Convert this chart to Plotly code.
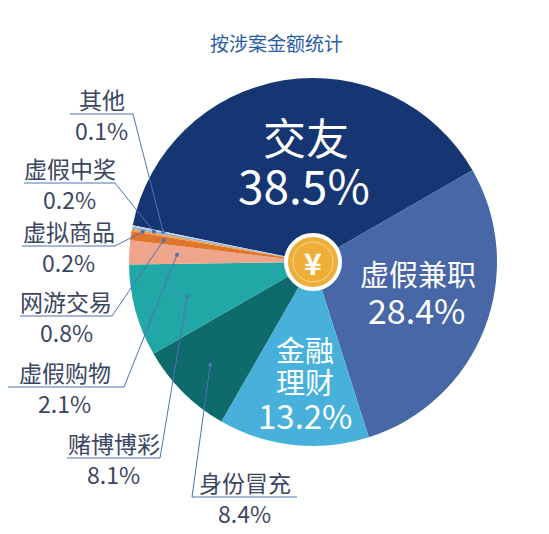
import math
import plotly.graph_objects as go

W, H = 549, 534
OFF = 8  # page body margin offset

categories = ['交友', '虚假兼职', '金融理财', '身份冒充', '赌博博彩',
              '虚假购物', '网游交易', '虚拟商品', '虚假中奖', '其他']
values = [38.5, 28.4, 13.2, 8.4, 8.1, 2.1, 0.8, 0.2, 0.2, 0.1]
pct_labels = ['38.5%', '28.4%', '13.2%', '8.4%', '8.1%', '2.1%', '0.8%', '0.2%', '0.2%', '0.1%']
colors = ['#163673', '#4767a6', '#47b1dc', '#0e6a6b', '#21a7a6',
          '#eea58b', '#e0762e', '#f2a03c', '#8eb0dc', '#c8d4e8']

# pie geometry in pixels
CX, CY, R = 313, 262, 184
START = 168.5  # degrees, math convention, slices go clockwise


def px(x):
    return (x - OFF) / W


def py(y):
    return 1 - (y - OFF) / H


def mid_angle(i):
    before = sum(values[:i])
    return START - (before + values[i] / 2) / sum(values) * 360


def point(i, frac):
    a = math.radians(mid_angle(i))
    return CX + frac * R * math.cos(a), CY - frac * R * math.sin(a)


def text(x, y, t, size, color, bold=False):
    return dict(x=px(x), y=py(y), text=f'<b>{t}</b>' if bold else t, showarrow=False,
                xanchor='center', yanchor='middle', font=dict(size=size, color=color))


fig = go.Figure(go.Pie(
    labels=categories, values=values, sort=False, direction='clockwise',
    rotation=-(START - 90), marker=dict(colors=colors, line=dict(width=0)),
    textinfo='none', hoverinfo='label+percent', showlegend=False,
    domain=dict(x=[px(CX - R), px(CX + R)], y=[py(CY + R), py(CY - R)]),
))

shapes = []
annotations = []
text_col = '#3b4662'
line_col = '#4f72b3'

# outside labels: (index, underline x0, x1, y, dot radius fraction, line from left end?)
outside = [
    (9, 70, 133, 114, 0.83, False),
    (8, 24, 115, 183, 0.88, False),
    (7, 22, 115, 246, 0.94, False),
    (6, 20, 112, 316, 0.82, False),
    (5, 5, 124, 387, 0.74, False),
    (4, 67, 160, 458, 0.71, False),
    (3, 192, 297, 497, 0.79, True),
]
for i, x0, x1, y, frac, from_left in outside:
    dx, dy = point(i, frac)
    ex = x0 if from_left else x1
    shapes.append(dict(type='line', xref='paper', yref='paper',
                       x0=px(x0), x1=px(x1), y0=py(y), y1=py(y),
                       line=dict(color=line_col, width=1)))
    shapes.append(dict(type='line', xref='paper', yref='paper',
                       x0=px(ex), x1=px(dx), y0=py(y), y1=py(dy),
                       line=dict(color=line_col, width=1)))
    shapes.append(dict(type='circle', xref='paper', yref='paper',
                       x0=px(dx - 2), x1=px(dx + 2), y0=py(dy + 2), y1=py(dy - 2),
                       fillcolor=line_col, line=dict(width=0)))
    xc = (x0 + x1) / 2
    annotations.append(text(xc, y - 15, categories[i], 23, text_col))
    annotations.append(text(xc, y + 16, pct_labels[i], 23, text_col))

# inside labels
annotations.append(text(306, 136, '交友', 43, 'white'))
annotations.append(text(304, 184, '38.5%', 46, 'white'))
annotations.append(text(418, 273, '虚假兼职', 29, 'white'))
annotations.append(text(416, 309, '28.4%', 34, 'white'))
annotations.append(text(305, 349, '金融', 29, 'white'))
annotations.append(text(305, 381, '理财', 29, 'white'))
annotations.append(text(305, 415, '13.2%', 33, 'white'))

# coin in the center
shapes.append(dict(type='circle', xref='paper', yref='paper',
                   x0=px(CX - 27), x1=px(CX + 27), y0=py(CY + 27), y1=py(CY - 27),
                   fillcolor='#eeae38', line=dict(color='white', width=4)))
shapes.append(dict(type='circle', xref='paper', yref='paper',
                   x0=px(CX - 20), x1=px(CX + 20), y0=py(CY + 20), y1=py(CY - 20),
                   fillcolor='rgba(0,0,0,0)', line=dict(color='#f7d89a', width=1)))
annotations.append(text(CX, CY, '¥', 30, 'white', bold=True))

annotations.append(text(276, 42, '按涉案金额统计', 19, '#2a5ba8'))

fig.update_layout(
    width=W, height=H, margin=dict(l=0, r=0, t=0, b=0),
    paper_bgcolor='white', plot_bgcolor='white',
    font=dict(family='Noto Sans CJK SC'),
    shapes=shapes, annotations=annotations,
)

fig.write_html('out.html')
